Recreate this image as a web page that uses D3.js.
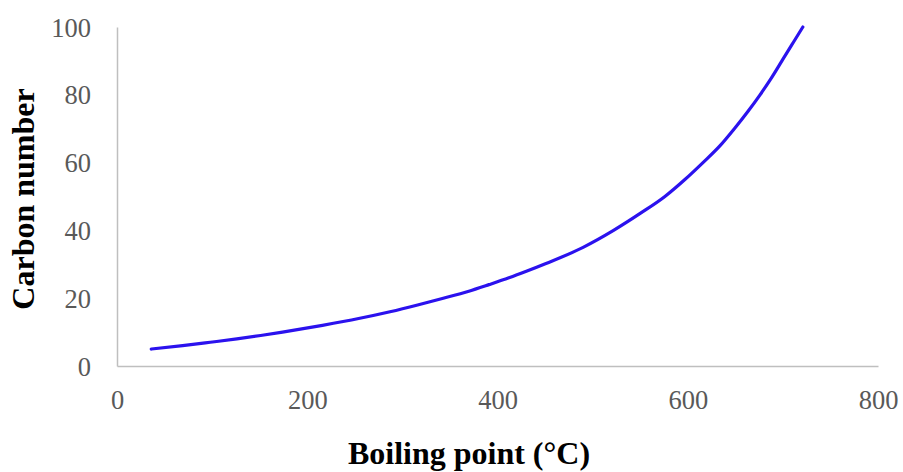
<!DOCTYPE html>
<html>
<head>
<meta charset="utf-8">
<script src="https://cdn.jsdelivr.net/npm/d3@7"></script>
<style>
  html, body { margin: 0; padding: 0; background: #ffffff; }
  svg { display: block; }
  .tick-label { font-family: "Liberation Serif", "Times New Roman", serif; font-size: 26.5px; fill: #595959; }
  .axis-title { font-family: "Liberation Serif", "Times New Roman", serif; font-size: 32px; font-weight: bold; fill: #000000; }
</style>
</head>
<body>
<svg id="chart" width="903" height="472"></svg>
<script>
// Normal boiling point (°C) against carbon number for n-alkanes
const boilingPoint = [36, 69, 98, 126, 151, 174, 216, 254, 287, 316, 343, 369, 391, 412, 431, 449, 490, 522, 550, 576, 597, 616, 634, 649, 663, 676, 688, 699, 710, 721];
const carbonNumber = [5, 6, 7, 8, 9, 10, 12, 14, 16, 18, 20, 22, 24, 26, 28, 30, 35, 40, 45, 50, 55, 60, 65, 70, 75, 80, 85, 90, 95, 100];

const xTicks = [0, 200, 400, 600, 800];
const yTicks = [0, 20, 40, 60, 80, 100];

const xTitle = "Boiling point (°C)";
const yTitle = "Carbon number";

const svg = d3.select("#chart");
const plot = { left: 117, right: 878, top: 27, bottom: 366 };

const x = d3.scaleLinear().domain([0, 800]).range([plot.left, plot.right]);
const y = d3.scaleLinear().domain([0, 100]).range([plot.bottom, plot.top]);

// Axis lines (no tick marks)
const xAxis = d3.axisBottom(x).tickValues(xTicks).tickSize(0).tickPadding(26).tickFormat(d3.format("d"));
const yAxis = d3.axisLeft(y).tickValues(yTicks).tickSize(0).tickPadding(26).tickFormat(d3.format("d"));

const gx = svg.append("g").attr("transform", `translate(0,${plot.bottom})`).call(xAxis);
const gy = svg.append("g").attr("transform", `translate(${plot.left},0)`).call(yAxis);

[gx, gy].forEach(g => {
  g.select(".domain").attr("stroke", "#bfbfbf").attr("stroke-width", 1.5);
  g.selectAll(".tick text").attr("class", "tick-label").attr("font-size", null).attr("font-family", null).attr("fill", null);
});
gx.selectAll(".tick text").attr("dy", "0.71em").attr("y", 24);
gy.selectAll(".tick text").attr("x", -26).attr("dy", "0.34em");

// Curve
const data = boilingPoint.map((t, i) => ({ t, c: carbonNumber[i] }));
const line = d3.line().x(d => x(d.t)).y(d => y(d.c)).curve(d3.curveMonotoneX);

svg.append("path")
  .datum(data)
  .attr("fill", "none")
  .attr("stroke", "#2b12ee")
  .attr("stroke-width", 3.2)
  .attr("stroke-linecap", "round")
  .attr("d", line);

// Axis titles
svg.append("text")
  .attr("class", "axis-title")
  .attr("x", 469)
  .attr("y", 464)
  .attr("text-anchor", "middle")
  .text(xTitle);

svg.append("text")
  .attr("class", "axis-title")
  .attr("transform", "translate(34,199) rotate(-90)")
  .attr("text-anchor", "middle")
  .text(yTitle);
</script>
</body>
</html>
